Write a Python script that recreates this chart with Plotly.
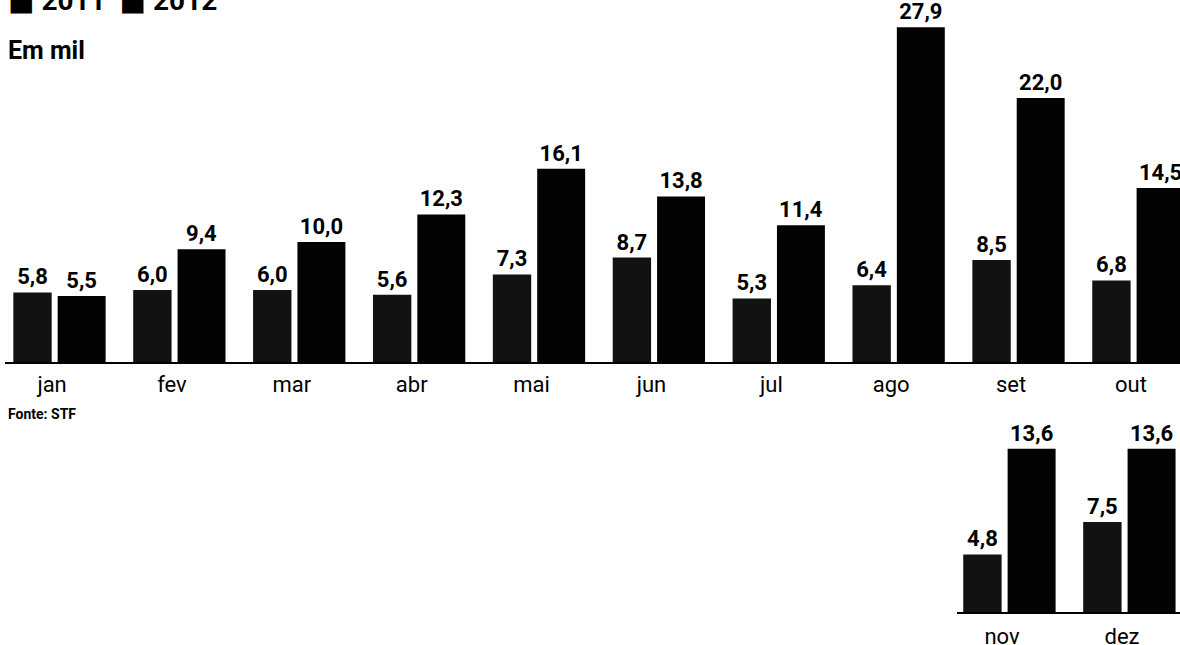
import plotly.graph_objects as go

# Data (em mil)
months_main = ["jan", "fev", "mar", "abr", "mai", "jun", "jul", "ago", "set", "out"]
v2011_main = [5.8, 6.0, 6.0, 5.6, 7.3, 8.7, 5.3, 6.4, 8.5, 6.8]
v2012_main = [5.5, 9.4, 10.0, 12.3, 16.1, 13.8, 11.4, 27.9, 22.0, 14.5]

months_extra = ["nov", "dez"]
v2011_extra = [4.8, 7.5]
v2012_extra = [13.6, 13.6]

series_names = ["2011", "2012"]
title_sub = "Em mil"
source = "Fonte: STF"


def fmt(vals):
    return [f"{v:.1f}".replace(".", ",") for v in vals]


C2011 = "#121212"
C2012 = "#030303"
VAL_FONT = dict(family="Roboto, Arial, sans-serif", size=22, color="#000000", weight="bold")
TICK_FONT = dict(family="Roboto, Arial, sans-serif", size=22, color="#000000")

W11, O11 = 0.32, -0.39
W12, O12 = 0.40, -0.02

fig = go.Figure()


def add_pair(cats, a, b, xa, ya):
    n = len(cats)
    fig.add_trace(go.Bar(
        x=cats, y=a, name=series_names[0], marker=dict(color=C2011, line=dict(width=0)),
        width=[W11] * n, offset=[O11] * n,
        text=fmt(a), textposition="outside", textfont=VAL_FONT, cliponaxis=False,
        xaxis=xa, yaxis=ya, showlegend=False, hoverinfo="x+y"))
    fig.add_trace(go.Bar(
        x=cats, y=b, name=series_names[1], marker=dict(color=C2012, line=dict(width=0)),
        width=[W12] * n, offset=[O12] * n,
        text=fmt(b), textposition="outside", textfont=VAL_FONT, cliponaxis=False,
        xaxis=xa, yaxis=ya, showlegend=False, hoverinfo="x+y"))


add_pair(months_main, v2011_main, v2012_main, "x", "y")
add_pair(months_extra, v2011_extra, v2012_extra, "x2", "y2")

H = 645.0
fig.update_layout(
    width=1180, height=645,
    margin=dict(l=0, r=0, t=0, b=0, autoexpand=False),
    paper_bgcolor="white", plot_bgcolor="rgba(0,0,0,0)",
    barmode="overlay",
    xaxis=dict(domain=[0.004, 1], type="category", range=[-0.4617, 9.342],
               showgrid=False, zeroline=False, showline=True, linecolor="#000", linewidth=2,
               ticks="", tickfont=TICK_FONT, ticklabelshift=-8, ticklabelstandoff=2,
               anchor="y", automargin=False),
    yaxis=dict(domain=[1 - 362 / H, 1 - 2 / H], range=[0, 30], visible=False, anchor="x",
               automargin=False),
    xaxis2=dict(domain=[957 / 1180, 1], type="category", range=[-0.442, 1.417],
                showgrid=False, zeroline=False, showline=True, linecolor="#000", linewidth=2,
                ticks="", tickfont=TICK_FONT, ticklabelshift=-8, ticklabelstandoff=4,
                anchor="y2", automargin=False),
    yaxis2=dict(domain=[1 - 612 / H, 1 - 432 / H], range=[0, 15], visible=False, anchor="x2",
                automargin=False),
    font=dict(family="Roboto, Arial, sans-serif", color="#000"),
)

# Legend (cropped at the top, as in the reference)
SQ = "<span style='font-family:DejaVu Sans'>■</span>"
fig.add_annotation(
    x=0.005, y=1 - 1 / H, xref="paper", yref="paper", xanchor="left", yanchor="middle",
    text=f"{SQ} {series_names[0]}  {SQ} {series_names[1]}", showarrow=False,
    font=dict(family="Roboto, Arial, sans-serif", size=28, color="#000", weight="bold"))
fig.add_annotation(
    x=0.005, y=1 - 50 / H, xref="paper", yref="paper", xanchor="left", yanchor="middle",
    text=f"<b>{title_sub}</b>", showarrow=False,
    font=dict(family="Roboto, Arial, sans-serif", size=25, color="#000"))
fig.add_annotation(
    x=0.005, y=1 - 414 / H, xref="paper", yref="paper", xanchor="left", yanchor="middle",
    text=source, showarrow=False,
    font=dict(family="Roboto, Arial, sans-serif", size=14, color="#000", weight="bold"))

fig.write_html("out.html", config={"displayModeBar": False},
               post_script="document.body.style.margin='0';document.body.style.padding='0';")
